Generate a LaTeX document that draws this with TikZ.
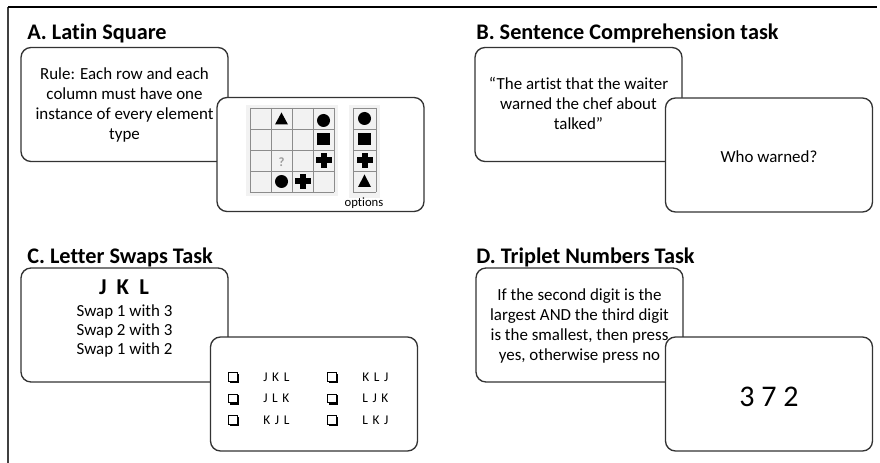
\documentclass[tikz,border=0pt]{standalone}
\usepackage{fontspec}
\setmainfont{Carlito}[Ligatures=CommonOff]
\usetikzlibrary{shadows}
\begin{document}
\begin{tikzpicture}[x=0.75pt,y=-0.75pt,
  card/.style={draw=black!80, line width=1pt, rounded corners=7.5pt, fill=white,
    minimum width=155.25pt, minimum height=85.5pt, inner sep=0pt},
  body/.style={align=center, font=\fontsize{12.7}{15}\selectfont, inner sep=0pt},
  heading/.style={anchor=base west, font=\fontsize{16.7}{19}\selectfont\bfseries, inner sep=0pt},
  gridline/.style={draw=black!45, line width=0.6pt},
  shp/.style={fill=black, draw=none},
  cbox/.style={draw=black, fill=white, line width=0.6pt, minimum size=6.3pt, inner sep=0pt,
    copy shadow={shadow xshift=1pt, shadow yshift=-1pt, fill=black, draw=black}},
  opt/.style={anchor=west, font=\fontsize{10}{12}\selectfont, inner sep=0pt}
]
\useasboundingbox (0,0) rectangle (880,463);
% frame
\draw[black!75, line width=1pt] (8,7) -- (8,463);
\draw[black, line width=1.3pt] (8,7) -- (877,7);

% headings
\node[heading] (tA) at (27,40) {A. Latin Square};
\node[heading] (tB) at (476,40) {B. Sentence Comprehension task};
\node[heading] (tC) at (27,263) {C. Letter Swaps Task};
\node[heading] (tD) at (476,263) {D. Triplet Numbers Task};

% ---------- A ----------
\node[card] (A1) at (124.5,104.5) {};
\node[body] (A1t) at (124.5,105) {Rule: Each row and each\\column must have one\\instance of every element\\type};
\node[card] (A2) at (320.5,154.5) {};
% grid
\fill[black!5] (246,105) rectangle (338,196);
\fill[black!5] (349,105) rectangle (380,198);
\foreach \i in {0,...,4} {
  \draw[gridline] (250,108+21*\i) -- (334,108+21*\i);
  \draw[gridline] (250+21*\i,108) -- (250+21*\i,192);
}
\foreach \i in {0,...,4} {
  \draw[gridline] (353,108+21*\i) -- (376,108+21*\i);
}
\draw[gridline] (353,108) -- (353,192);
\draw[gridline] (376,108) -- (376,192);
% grid shapes
\fill[shp] (281.5,112.5) -- (288,124.5) -- (275,124.5) -- cycle;
\fill[shp] (323.5,120.5) circle (6.5);
\fill[shp] (317,133.5) rectangle (330,145.5);
\fill[shp] (321,153) rectangle (326.5,168);
\fill[shp] (316,157.5) rectangle (331.5,163);
\node[text=black!40, font=\fontsize{9.5}{9.5}\selectfont\bfseries, inner sep=0pt] (q) at (281.5,162) {?};
\fill[shp] (281.5,181.5) circle (6.5);
\fill[shp] (300,174) rectangle (305.5,189);
\fill[shp] (295,178.5) rectangle (310.5,184);
% option shapes
\fill[shp] (364.5,118.5) circle (6.5);
\fill[shp] (358,133) rectangle (371,145);
\fill[shp] (362,153) rectangle (367.5,168);
\fill[shp] (357,157.5) rectangle (372.5,163);
\fill[shp] (364.5,174.5) -- (371,187) -- (358,187) -- cycle;
\node[font=\fontsize{9.5}{11}\selectfont, inner sep=0pt] (optlbl) at (364,203) {options};

% ---------- B ----------
\node[card] (B1) at (578.5,104.5) {};
\node[body] (B1t) at (578.5,103) {``The artist that the waiter\\warned the chef about\\talked''};
\node[card] (B2) at (769,155) {};
\node[body] (B2t) at (769,157) {Who warned?};

% ---------- C ----------
\node[card] (C1) at (124.5,325) {};
\node[font=\fontsize{17}{19}\selectfont\bfseries, inner sep=0pt] (jkl) at (124,287) {J\hspace{0.45em}K\hspace{0.45em}L};
\node[body, font=\fontsize{12.7}{14.25}\selectfont] (C1t) at (124.5,331) {Swap 1 with 3\\Swap 2 with 3\\Swap 1 with 2};
\node[card] (C2) at (314,394) {};
\foreach \k in {0,1,2} {
  \node[cbox] (cb1\k) at (233,377+21.5*\k) {};
  \node[cbox] (cb2\k) at (332,377+21.5*\k) {};
}
\node[opt] (o1) at (263,377) {J\hspace{3.5pt}K\hspace{3.5pt}L};
\node[opt] (o2) at (263,398.5) {J\hspace{3.5pt}L\hspace{3.5pt}K};
\node[opt] (o3) at (263,420) {K\hspace{3.5pt}J\hspace{3.5pt}L};
\node[opt] (o4) at (362,377) {K\hspace{3.5pt}L\hspace{3.5pt}J};
\node[opt] (o5) at (362,398.5) {L\hspace{3.5pt}J\hspace{3.5pt}K};
\node[opt] (o6) at (362,420) {L\hspace{3.5pt}K\hspace{3.5pt}J};

% ---------- D ----------
\node[card] (D1) at (579.5,325) {};
\node[body] (D1t) at (579.5,326) {If the second digit is the\\largest AND the third digit\\is the smallest, then press\\yes, otherwise press no};
\node[card] (D2) at (769,394) {};
\node[font=\fontsize{22.5}{26}\selectfont, inner sep=0pt] (D2t) at (769,397) {3 7 2};
\end{tikzpicture}
\end{document}
